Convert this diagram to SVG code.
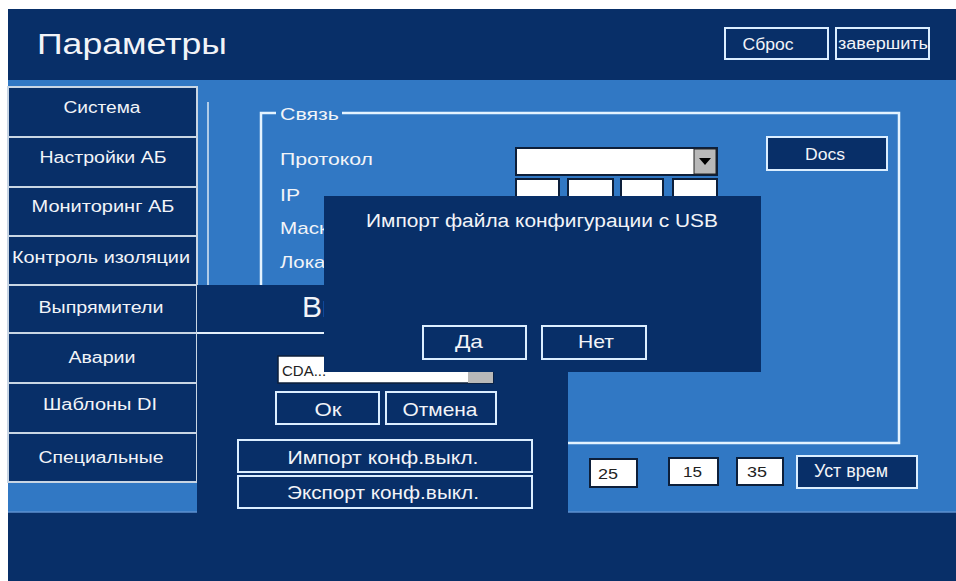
<svg xmlns="http://www.w3.org/2000/svg" width="956" height="581" viewBox="0 0 956 581">
<style>
text{font-family:"Liberation Sans",Arial,sans-serif;fill:#f2f4f8}
.dk{fill:#082f68}
.lb{fill:#3178c4}
.btn{fill:#082f68;stroke:#dbeeff;stroke-width:2}
.menu{fill:#082f68;stroke:#c9d6e4;stroke-width:2}
.inp{fill:#ffffff;stroke:#0d1f3a;stroke-width:2}
.m{font-size:16px;text-anchor:middle}
.b{font-size:19px;text-anchor:middle}
.t{font-size:17px}
.d{fill:#222;font-size:15px}
.frame{fill:none;stroke:#e4f3ff;stroke-width:2.5}
</style>
<rect x="0" y="0" width="956" height="581" fill="#ffffff"/>
<rect class="dk" x="8" y="9" width="948" height="572"/>
<rect class="lb" x="8" y="80" width="948" height="432"/>
<line x1="8" y1="512" x2="956" y2="512" stroke="#5d90cf" stroke-width="1.5"/>

<g id="header">
<text x="37" y="54" font-size="29" textLength="190" lengthAdjust="spacingAndGlyphs">Параметры</text>
</g>
<g id="btn-reset"><rect class="btn" x="725" y="28" width="103" height="31"/><text class="m" x="768" y="50" font-size="17" textLength="51" lengthAdjust="spacingAndGlyphs">Сброс</text></g>
<g id="btn-finish"><rect class="btn" x="836" y="28" width="93" height="31"/><text class="m" x="883" y="49" font-size="17" textLength="90" lengthAdjust="spacingAndGlyphs">завершить</text></g>

<g id="menu">
<g id="m-system"><rect class="menu" x="8" y="87" width="189" height="50"/><text class="m" x="102" y="113" textLength="77" lengthAdjust="spacingAndGlyphs">Система</text></g>
<g id="m-ab"><rect class="menu" x="8" y="137" width="189" height="50"/><text class="m" x="103" y="163" textLength="127" lengthAdjust="spacingAndGlyphs">Настройки АБ</text></g>
<g id="m-mon"><rect class="menu" x="8" y="187" width="189" height="49"/><text class="m" x="103" y="212" textLength="143" lengthAdjust="spacingAndGlyphs">Мониторинг АБ</text></g>
<g id="m-iso"><rect class="menu" x="8" y="236" width="189" height="49"/><text class="m" x="101" y="263" textLength="178" lengthAdjust="spacingAndGlyphs">Контроль изоляции</text></g>
<g id="m-rect"><rect class="menu" x="8" y="285" width="189" height="48"/><text class="m" x="101" y="313" textLength="125" lengthAdjust="spacingAndGlyphs">Выпрямители</text></g>
<g id="m-alarm"><rect class="menu" x="8" y="333" width="189" height="50"/><text class="m" x="102" y="363" textLength="67" lengthAdjust="spacingAndGlyphs">Аварии</text></g>
<g id="m-di"><rect class="menu" x="8" y="383" width="189" height="50"/><text class="m" x="100" y="410" textLength="114" lengthAdjust="spacingAndGlyphs">Шаблоны DI</text></g>
<g id="m-spec"><rect class="menu" x="8" y="433" width="189" height="49"/><text class="m" x="101" y="463" textLength="125" lengthAdjust="spacingAndGlyphs">Специальные</text></g>
</g>

<line x1="208" y1="102" x2="208" y2="290" stroke="#dbe8f5" stroke-width="1.5"/>

<g id="frame-svyaz">
<path class="frame" d="M276 113 H261 V443 H899 V113 H342"/>
<text class="t" x="280" y="120" textLength="59" lengthAdjust="spacingAndGlyphs">Связь</text>
<text class="t" x="280" y="165" textLength="93" lengthAdjust="spacingAndGlyphs">Протокол</text>
<text class="t" x="280" y="201" textLength="20" lengthAdjust="spacingAndGlyphs">IP</text>
<text class="t" x="280" y="234" textLength="60" lengthAdjust="spacingAndGlyphs">Маска</text>
<text class="t" x="280" y="268" textLength="105" lengthAdjust="spacingAndGlyphs">Локальный</text>
<g id="protocol-combo">
<rect class="inp" x="516" y="148" width="201" height="27"/>
<rect x="694" y="149" width="22" height="25" fill="#b9b9b9" stroke="#222" stroke-width="1"/>
<polygon points="699,158 711,158 705,165" fill="#000"/>
</g>
<rect class="inp" x="516" y="179" width="43" height="30"/>
<rect class="inp" x="568" y="179" width="45" height="30"/>
<rect class="inp" x="621" y="179" width="42" height="30"/>
<rect class="inp" x="673" y="179" width="44" height="30"/>
<g id="btn-docs"><rect class="btn" x="767" y="137" width="120" height="33"/><text class="m" x="825" y="160" font-size="17" textLength="40" lengthAdjust="spacingAndGlyphs">Docs</text></g>
</g>

<g id="dialog-file">
<rect class="dk" x="197" y="285" width="371" height="296"/>
<line x1="197" y1="333" x2="400" y2="333" stroke="#e4f0fb" stroke-width="2"/>
<text x="302" y="317" font-size="30">Вы</text>
<g id="cda-combo">
<rect x="278" y="356" width="215" height="27" fill="#fff" stroke="#0d1f3a" stroke-width="1.5"/>
<rect x="468" y="357" width="25" height="26" fill="#b9b9b9"/>
<text class="d" x="282" y="376">CDA...</text>
</g>
<g id="btn-ok"><rect class="btn" x="276" y="392" width="103" height="32"/><text class="b" x="328" y="416" textLength="27" lengthAdjust="spacingAndGlyphs">Ок</text></g>
<g id="btn-cancel"><rect class="btn" x="386" y="392" width="110" height="32"/><text class="b" x="440" y="416" textLength="75" lengthAdjust="spacingAndGlyphs">Отмена</text></g>
<g id="btn-import"><rect class="btn" x="238" y="440" width="294" height="32"/><text class="b" x="383" y="464" textLength="191" lengthAdjust="spacingAndGlyphs">Импорт конф.выкл.</text></g>
<g id="btn-export"><rect class="btn" x="238" y="476" width="294" height="32"/><text class="b" x="383" y="499" textLength="192" lengthAdjust="spacingAndGlyphs">Экспорт конф.выкл.</text></g>
</g>

<g id="dialog-usb">
<rect class="dk" x="324" y="196" width="437" height="176"/>
<text x="366" y="227" font-size="18" textLength="352" lengthAdjust="spacingAndGlyphs">Импорт файла конфигурации с USB</text>
<g id="btn-yes"><rect class="btn" x="423" y="326" width="103" height="33"/><text class="b" x="469" y="348" textLength="28" lengthAdjust="spacingAndGlyphs">Да</text></g>
<g id="btn-no"><rect class="btn" x="542" y="326" width="104" height="33"/><text class="b" x="596" y="348" textLength="36" lengthAdjust="spacingAndGlyphs">Нет</text></g>
</g>

<g id="time">
<g id="t-h"><rect class="inp" x="590" y="459" width="47" height="28"/><text class="d" x="598" y="479" font-size="17" textLength="20" lengthAdjust="spacingAndGlyphs">25</text></g>
<g id="t-m"><rect class="inp" x="669" y="458" width="49" height="27"/><text class="d" x="683" y="477" font-size="17" textLength="19" lengthAdjust="spacingAndGlyphs">15</text></g>
<g id="t-s"><rect class="inp" x="737" y="458" width="46" height="27"/><text class="d" x="747" y="477" font-size="17" textLength="20" lengthAdjust="spacingAndGlyphs">35</text></g>
<g id="btn-settime"><rect class="btn" x="797" y="456" width="120" height="32"/><text x="814" y="477" font-size="18" textLength="74" lengthAdjust="spacingAndGlyphs">Уст врем</text></g>
</g>
</svg>
